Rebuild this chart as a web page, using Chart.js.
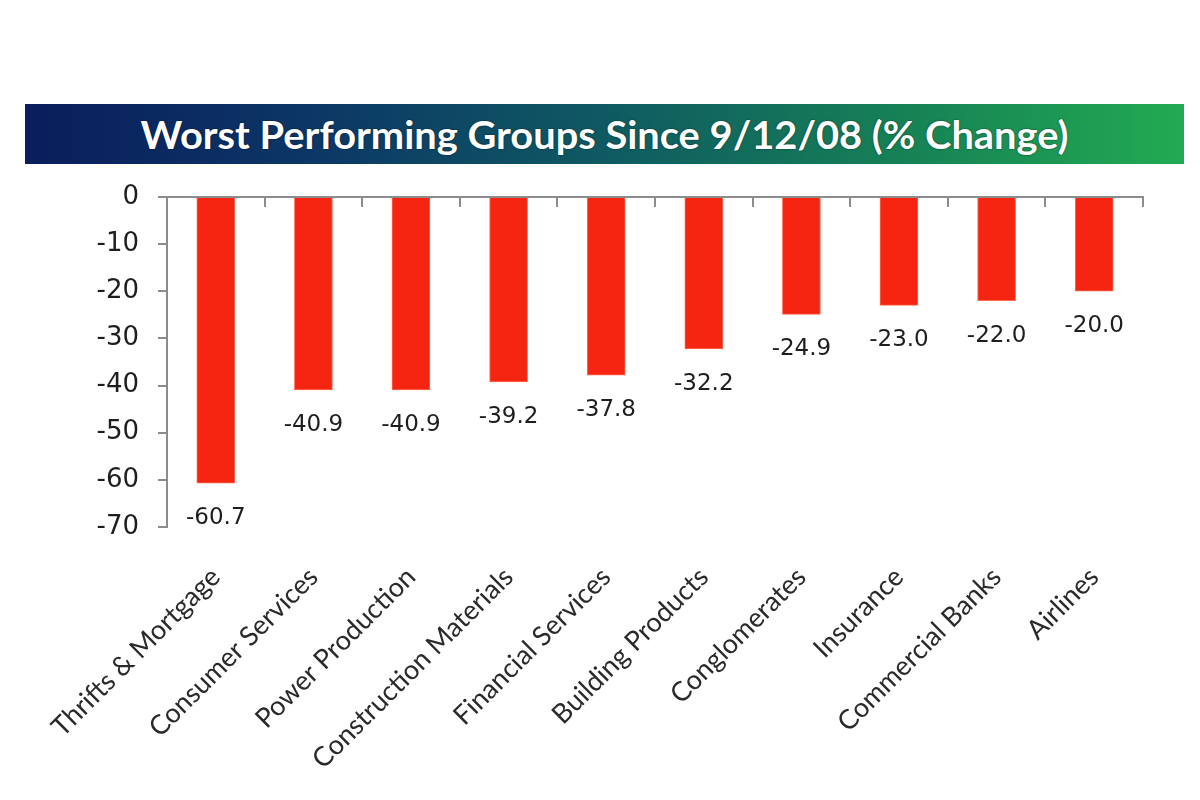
<!DOCTYPE html>
<html>
<head>
<meta charset="utf-8">
<script src="https://cdn.jsdelivr.net/npm/chart.js@4.4.0/dist/chart.umd.min.js"></script>
<style>
  body { margin: 0; background: #fff; }
  #wrap { position: relative; width: 1200px; height: 800px; overflow: hidden; }
  #banner {
    position: absolute; left: 25px; top: 104px; width: 1159px; height: 60px;
    background: linear-gradient(to right, #0a1d5c 0%, #0c3766 25%, #0f5a62 50%, #168056 75%, #22aa52 100%);
    display: flex; align-items: center; justify-content: center;
  }
  #title {
    color: #fff; font-family: Lato, sans-serif; font-weight: bold; font-size: 39px;
    white-space: nowrap; text-shadow: 0 0 2px rgba(0,0,0,0.6);
    display: inline-block; transform-origin: center;
  }
  canvas { position: absolute; left: 0; top: 0; }
</style>
</head>
<body>
<div id="wrap">
  <div id="banner"><span id="title">Worst Performing Groups Since 9/12/08 (% Change)</span></div>
  <canvas id="chart" width="1200" height="800"></canvas>
</div>
<script>
// data
const groups = ['Thrifts & Mortgage', 'Consumer Services', 'Power Production', 'Construction Materials',
  'Financial Services', 'Building Products', 'Conglomerates', 'Insurance', 'Commercial Banks', 'Airlines'];
const pctChange = [-60.7, -40.9, -40.9, -39.2, -37.8, -32.2, -24.9, -23.0, -22.0, -20.0];
const yTicks = [0, -10, -20, -30, -40, -50, -60, -70];

// squeeze title to the width it has in the picture
const t = document.getElementById('title');
t.style.transform = 'scaleX(' + (928 / t.offsetWidth) + ')';

const axisGray = '#8c8c8c';

// value labels under each bar
const barLabels = {
  id: 'barLabels',
  afterDatasetsDraw(chart) {
    const ctx = chart.ctx;
    const meta = chart.getDatasetMeta(0);
    ctx.save();
    ctx.font = '23px "DejaVu Sans"';
    ctx.fillStyle = '#1e1e1e';
    ctx.textAlign = 'center';
    ctx.textBaseline = 'middle';
    meta.data.forEach((bar, i) => {
      ctx.fillText(pctChange[i].toFixed(1), bar.x, bar.y + 35);
    });
    ctx.restore();
  }
};

new Chart(document.getElementById('chart'), {
  type: 'bar',
  data: {
    labels: groups,
    datasets: [{
      data: pctChange,
      backgroundColor: '#f52512',
      borderColor: '#ff6a50',
      borderWidth: 1,
      barThickness: 38,
      xAxisID: 'x'
    }]
  },
  options: {
    responsive: false,
    animation: false,
    layout: { padding: { top: 197, right: 57, left: 0, bottom: 0 } },
    plugins: { legend: { display: false }, tooltip: { enabled: false } },
    scales: {
      x: {
        position: 'bottom',
        grid: { display: false, drawTicks: false },
        border: { display: false },
        ticks: {
          autoSkip: false, minRotation: 45, maxRotation: 45, padding: 34,
          color: '#2a2a2a', font: { family: 'Lato', size: 27 }
        },
        afterFit(scale) { scale.height = 273; }
      },
      x0: {
        type: 'category',
        labels: groups,
        position: { y: 0 },
        offset: true,
        grid: { offset: true, drawOnChartArea: false, drawTicks: true, tickLength: 9, color: axisGray, lineWidth: 2 },
        border: { color: axisGray, width: 2 },
        ticks: { display: false }
      },
      y: {
        min: -70, max: 0,
        afterBuildTicks(scale) { scale.ticks = yTicks.map(v => ({ value: v })); },
        grid: { drawOnChartArea: false, drawTicks: true, tickLength: 9, color: axisGray, lineWidth: 2 },
        border: { color: axisGray, width: 2 },
        ticks: { padding: 19, color: '#1e1e1e', font: { family: 'DejaVu Sans', size: 26 } },
        afterFit(scale) { scale.width = 167; }
      }
    }
  },
  plugins: [barLabels]
});
</script>
</body>
</html>
